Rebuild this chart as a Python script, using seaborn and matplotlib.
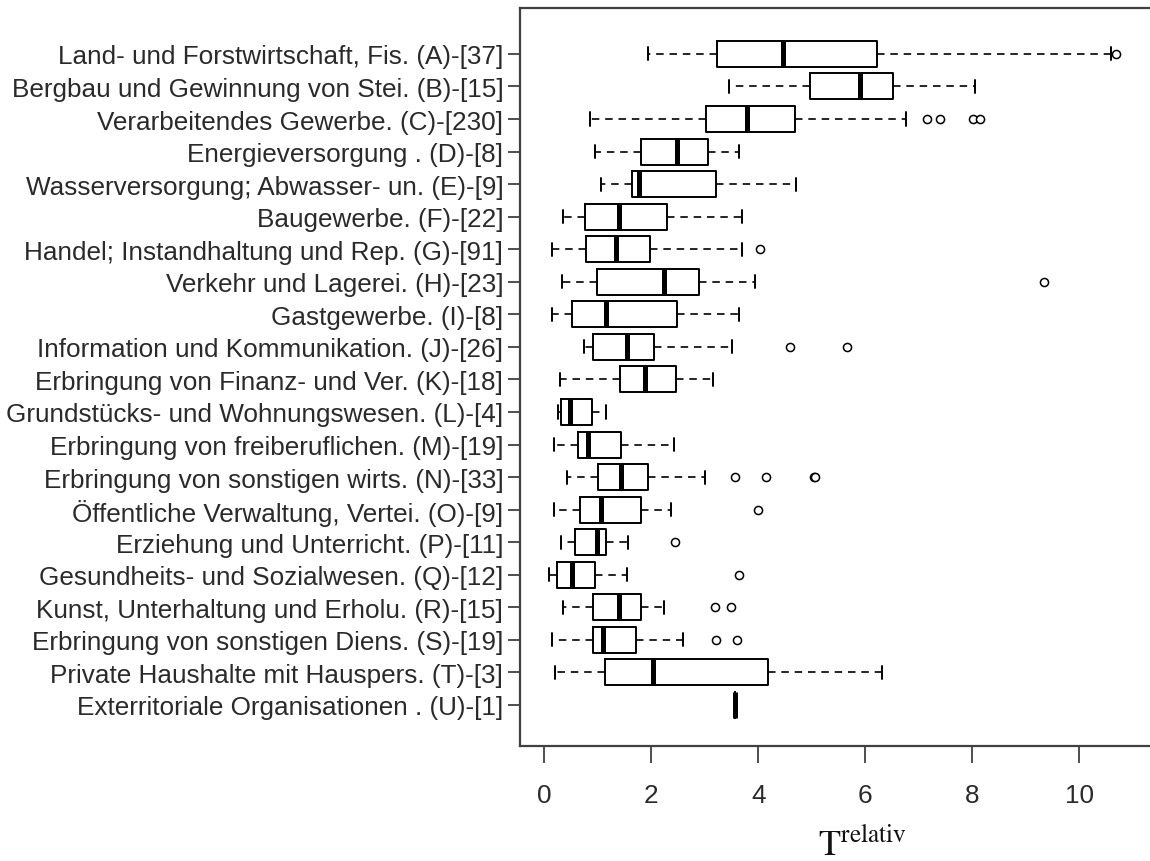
import numpy as np
import pandas as pd
import matplotlib
matplotlib.use("Agg")
import matplotlib.pyplot as plt
import seaborn as sns

categories = [
    "Land- und Forstwirtschaft, Fis. (A)-[37]",
    "Bergbau und Gewinnung von Stei. (B)-[15]",
    "Verarbeitendes Gewerbe. (C)-[230]",
    "Energieversorgung . (D)-[8]",
    "Wasserversorgung; Abwasser- un. (E)-[9]",
    "Baugewerbe. (F)-[22]",
    "Handel; Instandhaltung und Rep. (G)-[91]",
    "Verkehr und Lagerei. (H)-[23]",
    "Gastgewerbe. (I)-[8]",
    "Information und Kommunikation. (J)-[26]",
    "Erbringung von Finanz- und Ver. (K)-[18]",
    "Grundstücks- und Wohnungswesen. (L)-[4]",
    "Erbringung von freiberuflichen. (M)-[19]",
    "Erbringung von sonstigen wirts. (N)-[33]",
    "Öffentliche Verwaltung, Vertei. (O)-[9]",
    "Erziehung und Unterricht. (P)-[11]",
    "Gesundheits- und Sozialwesen. (Q)-[12]",
    "Kunst, Unterhaltung und Erholu. (R)-[15]",
    "Erbringung von sonstigen Diens. (S)-[19]",
    "Private Haushalte mit Hauspers. (T)-[3]",
    "Exterritoriale Organisationen . (U)-[1]",
]

whisker_low = [1.95, 3.46, 0.86, 0.95, 1.07, 0.35, 0.15, 0.34, 0.15, 0.74, 0.29,
               0.26, 0.18, 0.43, 0.18, 0.31, 0.10, 0.36, 0.15, 0.21, 3.57]
quartile1 = [3.24, 4.97, 3.03, 1.82, 1.64, 0.77, 0.79, 0.98, 0.52, 0.91, 1.42,
             0.32, 0.64, 1.01, 0.67, 0.58, 0.24, 0.92, 0.91, 1.13, 3.57]
median = [4.46, 5.91, 3.79, 2.48, 1.78, 1.40, 1.34, 2.24, 1.15, 1.55, 1.88,
          0.48, 0.82, 1.43, 1.07, 0.98, 0.52, 1.40, 1.10, 2.03, 3.57]
quartile3 = [6.22, 6.52, 4.68, 3.06, 3.22, 2.30, 1.97, 2.89, 2.49, 2.06, 2.46,
             0.89, 1.43, 1.95, 1.82, 1.16, 0.95, 1.82, 1.71, 4.19, 3.57]
whisker_high = [10.60, 8.06, 6.76, 3.64, 4.70, 3.69, 3.69, 3.94, 3.65, 3.51, 3.15,
                1.15, 2.42, 3.01, 2.37, 1.57, 1.55, 2.24, 2.59, 6.31, 3.57]

outlier_group = ["A", "C", "C", "C", "C", "G", "H", "J", "J", "N", "N", "N", "N",
                 "O", "P", "Q", "R", "R", "S", "S"]
outlier_value = [10.68, 7.15, 7.40, 8.02, 8.15, 4.04, 9.35, 4.59, 5.66, 3.57, 4.14,
                 5.05, 5.07, 3.99, 2.44, 3.65, 3.20, 3.50, 3.22, 3.60]

x_ticks = [0, 2, 4, 6, 8, 10]

# ---- long table: five summary values per group reproduce each box exactly
rows = []
for cat, a, b, c, d, e in zip(categories, whisker_low, quartile1, median, quartile3, whisker_high):
    for v in (a, b, c, d, e):
        rows.append({"cat": cat, "value": v})
df = pd.DataFrame(rows)

letters = [c.split("(")[-1][0] for c in categories]
out_df = pd.DataFrame({
    "pos": [letters.index(g) for g in outlier_group],
    "value": outlier_value,
})

sns.set_style("white")
plt.rcParams["font.family"] = ["Liberation Sans", "DejaVu Sans"]
plt.rcParams["mathtext.fontset"] = "stix"

fig = plt.figure(figsize=(11.5, 8.62), dpi=100)
W, H = 1150, 862
left_px, right_px, top_px, bottom_px = 520, 1205, 9, 747
ax = fig.add_axes([left_px / W, 1 - bottom_px / H,
                   (right_px - left_px) / W, (bottom_px - top_px) / H])

lw = 1.4
sns.boxplot(
    data=df, x="value", y="cat", order=categories, ax=ax,
    whis=(0, 100), showfliers=False, fill=False, color="black",
    linecolor="black", linewidth=lw, width=0.8,
    whiskerprops=dict(linestyle=(0, (4.5, 3.5)), linewidth=1.2),
    capprops=dict(linestyle="-", linewidth=1.4),
    medianprops=dict(linewidth=3.6, solid_capstyle="butt"),
)

sns.scatterplot(
    data=out_df, x="value", y="pos", ax=ax, marker="o", s=34,
    facecolor="white", edgecolor="black", linewidth=1.1, zorder=5, legend=False,
)

ax.set_xlim(-0.45, 12.35)
ax.set_ylim(21.26, -1.41)
ax.set_xticks(x_ticks)
ax.set_xticklabels([str(t) for t in x_ticks])
ax.set_yticks(range(len(categories)))
ax.set_yticklabels(categories)
ax.set_xlabel("")
ax.set_ylabel("")

for sp in ax.spines.values():
    sp.set_visible(True)
    sp.set_color("#404040")
    sp.set_linewidth(1.6)

ax.tick_params(axis="y", direction="out", length=9, width=1.3, color="#404040",
               labelsize=18.8, labelcolor="#2a2a2a", pad=3, left=True)
ax.tick_params(axis="x", direction="out", length=12, width=1.3, color="#404040",
               labelsize=18.8, labelcolor="#2a2a2a", pad=15, bottom=True)

fig.text(862 / W, 7 / H, r"$\mathrm{T}^{\mathrm{relativ}}$", ha="center",
         va="baseline", fontsize=26, color="#111111")

fig.savefig("out.png", dpi=100)
